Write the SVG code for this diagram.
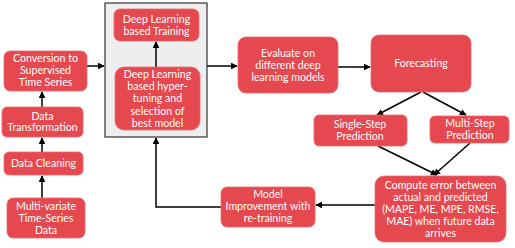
<svg xmlns="http://www.w3.org/2000/svg" width="515" height="248" viewBox="0 0 515 248">
  <style>
    .box { fill: #e5484e; stroke: #ec6a6f; stroke-width: 0.8; }
    .lbl { fill: #ffffff; font-family: Lato, "Open Sans", "Liberation Sans", sans-serif; font-size: 10.6px; text-anchor: middle; }
    .wire { fill: none; stroke: #000000; stroke-width: 1.5; }
  </style>
  <defs>
    <marker id="arrow" viewBox="0 0 10 10" refX="9" refY="5" markerWidth="4.5" markerHeight="4.5" orient="auto" markerUnits="strokeWidth">
      <path d="M0,0 L10,5 L0,10 z" fill="#000000"/>
    </marker>
  </defs>
  <rect width="515" height="248" fill="#ffffff"/>

  <!-- container holding the two deep learning steps -->
  <g id="dl-container">
    <rect x="105" y="3" width="102" height="134" fill="#eeeeee" stroke="#333333" stroke-width="1.2"/>
  </g>

  <g id="connectors">
    <line class="wire" x1="42" y1="198" x2="42" y2="176" marker-end="url(#arrow)"/>
    <line class="wire" x1="42" y1="152" x2="42" y2="138" marker-end="url(#arrow)"/>
    <line class="wire" x1="42" y1="107" x2="42" y2="92" marker-end="url(#arrow)"/>
    <line class="wire" x1="87" y1="66" x2="104" y2="66" marker-end="url(#arrow)"/>
    <line class="wire" x1="156" y1="67" x2="156" y2="42" marker-end="url(#arrow)"/>
    <line class="wire" x1="207" y1="66" x2="237" y2="66" marker-end="url(#arrow)"/>
    <line class="wire" x1="338" y1="67" x2="370" y2="67" marker-end="url(#arrow)"/>
    <line class="wire" x1="421" y1="92" x2="377" y2="115" marker-end="url(#arrow)"/>
    <line class="wire" x1="423" y1="92" x2="466" y2="115" marker-end="url(#arrow)"/>
    <line class="wire" x1="378" y1="146" x2="437" y2="175" marker-end="url(#arrow)"/>
    <line class="wire" x1="470" y1="143" x2="434" y2="175" marker-end="url(#arrow)"/>
    <line class="wire" x1="375" y1="205" x2="316" y2="205" marker-end="url(#arrow)"/>
    <polyline class="wire" points="221,207 156,207 156,138" marker-end="url(#arrow)"/>
  </g>

  <g id="multivariate-data">
    <rect class="box" x="7" y="198" width="78" height="40" rx="6"/>
    <text class="lbl" x="46" y="209.5">Multi-variate</text>
    <text class="lbl" x="46" y="222">Time-Series</text>
    <text class="lbl" x="46" y="233.5">Data</text>
  </g>

  <g id="data-cleaning">
    <rect class="box" x="4" y="152" width="79" height="23" rx="5"/>
    <text class="lbl" x="43.5" y="167">Data Cleaning</text>
  </g>

  <g id="data-transformation">
    <rect class="box" x="2" y="107" width="81" height="30" rx="5"/>
    <text class="lbl" x="42.5" y="119.5">Data</text>
    <text class="lbl" x="42.5" y="131">Transformation</text>
  </g>

  <g id="supervised-conversion">
    <rect class="box" x="4" y="51" width="83" height="40" rx="6"/>
    <text class="lbl" x="45.5" y="62">Conversion to</text>
    <text class="lbl" x="45.5" y="74">Supervised</text>
    <text class="lbl" x="45.5" y="86">Time Series</text>
  </g>

  <g id="dl-training">
    <rect class="box" x="114" y="9" width="85" height="32" rx="6"/>
    <text class="lbl" x="156.5" y="22.5">Deep Learning</text>
    <text class="lbl" x="156.5" y="35">based Training</text>
  </g>

  <g id="dl-hypertuning">
    <rect class="box" x="115" y="67" width="85" height="63" rx="9"/>
    <text class="lbl" x="157.5" y="77.5">Deep Learning</text>
    <text class="lbl" x="157.5" y="90">based hyper-</text>
    <text class="lbl" x="157.5" y="102">tuning and</text>
    <text class="lbl" x="157.5" y="114.5">selection of</text>
    <text class="lbl" x="157.5" y="127">best model</text>
  </g>

  <g id="evaluate">
    <rect class="box" x="238" y="37" width="100" height="56" rx="8"/>
    <text class="lbl" x="288" y="57">Evaluate on</text>
    <text class="lbl" x="288" y="69">different deep</text>
    <text class="lbl" x="288" y="81">learning models</text>
  </g>

  <g id="forecasting">
    <rect class="box" x="371" y="35" width="100" height="57" rx="8"/>
    <text class="lbl" x="421" y="67">Forecasting</text>
  </g>

  <g id="single-step">
    <rect class="box" x="314" y="115" width="93" height="31" rx="5"/>
    <text class="lbl" x="360" y="127.5">Single-Step</text>
    <text class="lbl" x="360" y="139.5">Prediction</text>
  </g>

  <g id="multi-step">
    <rect class="box" x="430" y="116" width="79" height="27" rx="5"/>
    <text class="lbl" x="470" y="127">Multi-Step</text>
    <text class="lbl" x="470" y="138.5">Prediction</text>
  </g>

  <g id="compute-error">
    <rect class="box" x="375" y="176" width="131" height="66" rx="9"/>
    <text class="lbl" x="440.5" y="188.5">Compute error between</text>
    <text class="lbl" x="440.5" y="201">actual and predicted</text>
    <text class="lbl" x="440.5" y="213">(MAPE, ME, MPE, RMSE,</text>
    <text class="lbl" x="440.5" y="225">MAE) when future data</text>
    <text class="lbl" x="440.5" y="237">arrives</text>
  </g>

  <g id="model-improvement">
    <rect class="box" x="221" y="187" width="94" height="40" rx="6"/>
    <text class="lbl" x="268" y="197.5">Model</text>
    <text class="lbl" x="268" y="210">Improvement with</text>
    <text class="lbl" x="268" y="222">re-training</text>
  </g>
</svg>
